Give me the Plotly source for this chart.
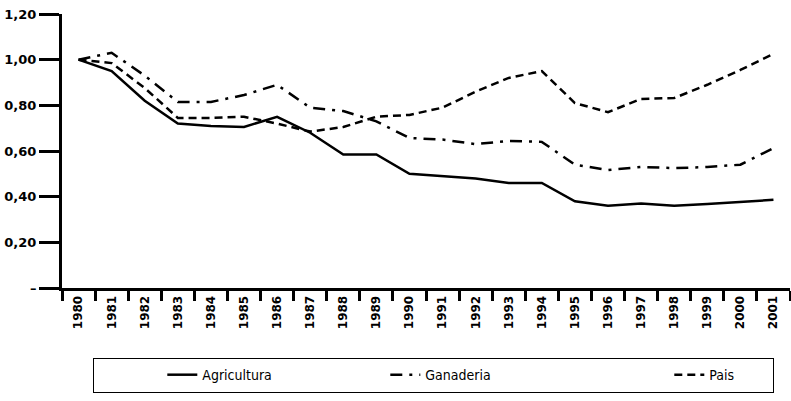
import plotly.graph_objects as go

years = [str(y) for y in range(1980, 2002)]

agricultura = [1.00, 0.95, 0.82, 0.72, 0.71, 0.705, 0.75, 0.68, 0.585, 0.585, 0.50,
               0.49, 0.48, 0.46, 0.46, 0.38, 0.36, 0.37, 0.36, 0.368, 0.377, 0.386]
ganaderia = [1.00, 1.03, 0.93, 0.815, 0.815, 0.845, 0.89, 0.79, 0.775, 0.73, 0.657,
             0.65, 0.63, 0.644, 0.64, 0.54, 0.517, 0.53, 0.525, 0.53, 0.54, 0.613]
pais = [1.00, 0.985, 0.876, 0.745, 0.745, 0.75, 0.72, 0.685, 0.705, 0.75, 0.758,
        0.79, 0.86, 0.92, 0.95, 0.81, 0.77, 0.828, 0.832, 0.89, 0.955, 1.025]

y_ticks = [0, 0.2, 0.4, 0.6, 0.8, 1.0, 1.2]
y_labels = ["–", "0,20", "0,40", "0,60", "0,80", "1,00", "1,20"]

fig = go.Figure()
fig.add_trace(go.Scatter(x=years, y=agricultura, name="Agricultura", mode="lines",
                         legendwidth=178,
                         line=dict(color="black", width=2.5)))
fig.add_trace(go.Scatter(x=years, y=ganaderia, name="Ganaderia", mode="lines",
                         legendwidth=239,
                         line=dict(color="black", width=2.5, dash="12px,7px,3px,7px")))
fig.add_trace(go.Scatter(x=years, y=pais, name="Pais", mode="lines",
                         legendwidth=58,
                         line=dict(color="black", width=2.5, dash="8px,5px")))

fig.update_layout(
    width=791, height=401,
    margin=dict(l=62, r=1, t=14, b=113),
    plot_bgcolor="white", paper_bgcolor="white",
    font=dict(family="DejaVu Sans", color="black"),
    legend=dict(orientation="h", xref="container", yref="container",
                x=0.1176, xanchor="left", y=0.107, yanchor="top",
                bordercolor="black", borderwidth=1, bgcolor="white",
                title=dict(text="\u00a0" * 12, side="left"),
                font=dict(family="DejaVu Sans Condensed", size=14)),
    xaxis=dict(type="category", range=[-0.5, 21.5], tickson="boundaries", ticks="outside",
               ticklen=10, tickwidth=3, tickcolor="black", showline=True, linecolor="black",
               linewidth=3, tickangle=-90, showgrid=False, automargin=False,
               tickfont=dict(size=12, weight="bold")),
    yaxis=dict(range=[0, 1.2], tickvals=y_ticks, ticktext=y_labels, ticks="outside",
               ticklen=20, tickwidth=3, tickcolor="black", showline=True,
               linecolor="black", linewidth=3, showgrid=False, zeroline=False,
               automargin=False, tickfont=dict(size=13, weight="bold")),
)

# page body has a default margin; drop it so the figure sits at the window corner
fig.write_html("out.html", config={"displayModeBar": False},
               post_script="document.body.style.margin = '0';")
